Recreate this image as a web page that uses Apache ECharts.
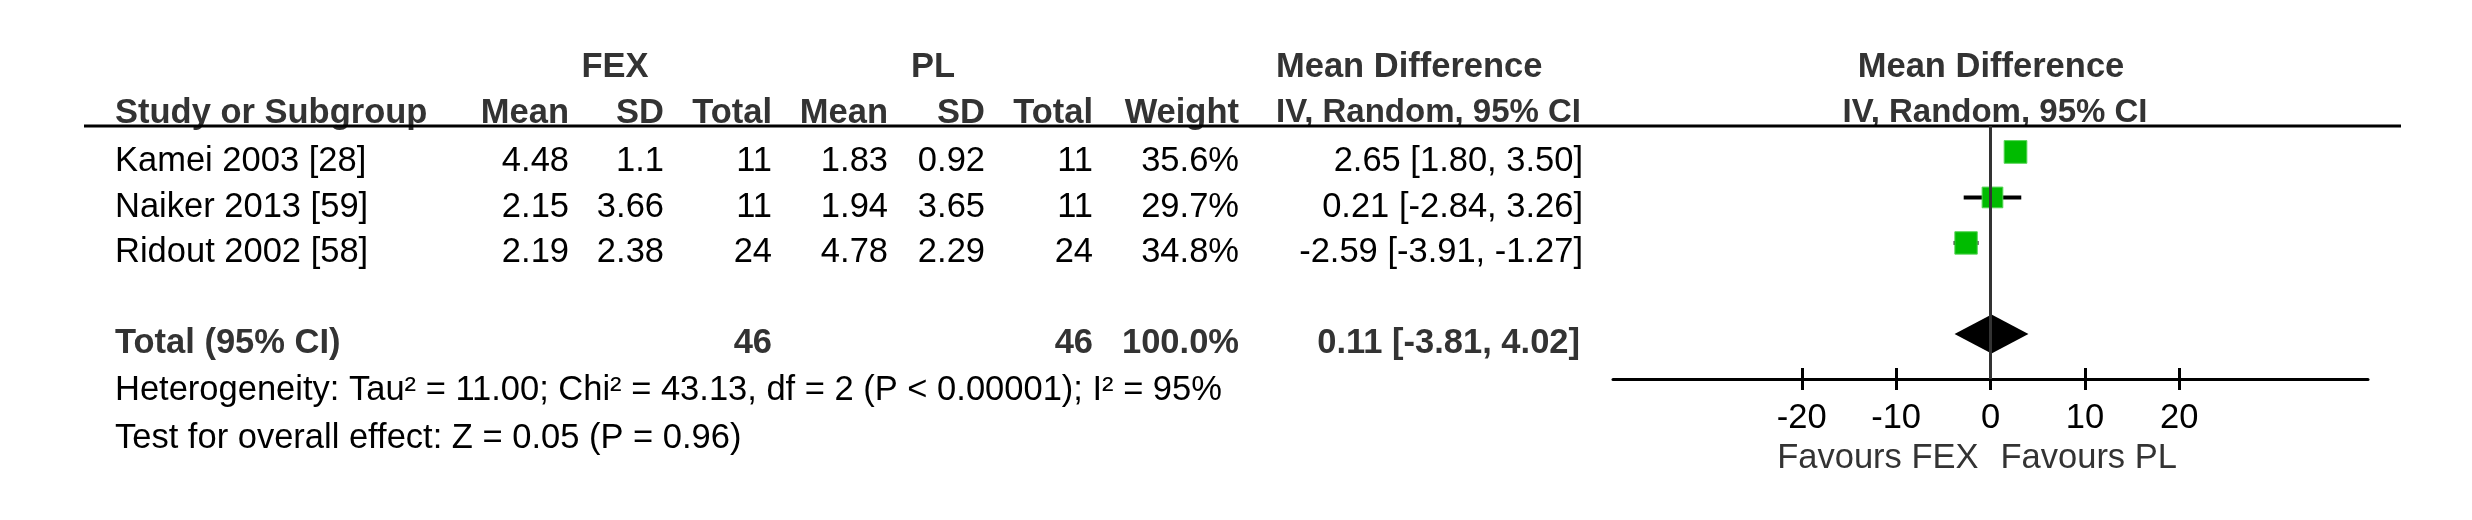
<!DOCTYPE html>
<html>
<head>
<meta charset="utf-8">
<style>
  html, body { margin: 0; padding: 0; background: #fff; }
  #main { width: 2472px; height: 520px; }
</style>
<script src="https://cdn.jsdelivr.net/npm/echarts@6/dist/echarts.min.js"></script>
</head>
<body>
<div id="main"></div>
<script>
// study rows
var studies = ['Kamei 2003 [28]', 'Naiker 2013 [59]', 'Ridout 2002 [58]'];
var fexMean = ['4.48', '2.15', '2.19'];
var fexSD = ['1.1', '3.66', '2.38'];
var fexTotal = [11, 11, 24];
var plMean = ['1.83', '1.94', '4.78'];
var plSD = ['0.92', '3.65', '2.29'];
var plTotal = [11, 11, 24];
var weights = [35.6, 29.7, 34.8];
var md = [2.65, 0.21, -2.59];
var ciLow = [1.80, -2.84, -3.91];
var ciHigh = [3.50, 3.26, -1.27];

// pooled result
var pooled = [0.11, -3.81, 4.02];
var totalFex = 46, totalPl = 46, totalWeight = '100.0%';
var hetText = 'Heterogeneity: Tau\u00b2 = 11.00; Chi\u00b2 = 43.13, df = 2 (P < 0.00001); I\u00b2 = 95%';
var testText = 'Test for overall effect: Z = 0.05 (P = 0.96)';

// axis
var xTicks = [-20, -10, 0, 10, 20];
var favours = ['Favours FEX', 'Favours PL'];

var FONT = '"Liberation Sans", Arial, sans-serif';
var FS = 34.5;
var rowIdx = [0, 1, 2];
var totalRow = 4;

var fmt = function (v) { return v.toFixed(2); };

var chart = echarts.init(document.getElementById('main'));

var option = {
    backgroundColor: '#fff',
    animation: false,
    grid: { left: 1613, top: 126, width: 755, height: 253 },
    xAxis: [{
        type: 'value', min: -40, max: 40, interval: 10,
        splitLine: { show: false },
        axisLine: { onZero: false, lineStyle: { color: '#000', width: 3 } },
        axisTick: { customValues: xTicks, length: 11, lineStyle: { color: '#000', width: 3 } },
        axisLabel: { customValues: xTicks, margin: 22, color: '#000', fontSize: FS, fontFamily: FONT }
    }, {
        type: 'value', min: -40, max: 40, interval: 10, position: 'bottom',
        splitLine: { show: false },
        axisLine: { show: false, onZero: false },
        axisTick: { customValues: xTicks, inside: true, length: 11, lineStyle: { color: '#000', width: 3 } },
        axisLabel: { show: false }
    }],
    yAxis: { type: 'value', inverse: true, min: -0.57, max: 4.99, show: false },
    series: [{
        // zero line
        type: 'line', data: [], z: 1,
        markLine: {
            silent: true, symbol: 'none', label: { show: false },
            lineStyle: { color: '#333', width: 3, type: 'solid' },
            data: [{ xAxis: 0 }]
        }
    }, {
        // confidence intervals
        type: 'custom', z: 2,
        data: rowIdx.map(function (i) { return [ciLow[i], ciHigh[i], i]; }),
        renderItem: function (params, api) {
            var a = api.coord([api.value(0), api.value(2)]);
            var b = api.coord([api.value(1), api.value(2)]);
            return { type: 'line', shape: { x1: a[0], y1: a[1], x2: b[0], y2: b[1] },
                     style: { stroke: '#000', lineWidth: 4 } };
        }
    }, {
        type: 'scatter', z: 3, symbol: 'rect',
        data: rowIdx.map(function (i) { return [md[i], i, weights[i]]; }),
        symbolSize: function (v) { return Math.sqrt(v[2]) * 3.8; },
        itemStyle: { color: '#00bb00', borderColor: '#55d455', borderWidth: 1, opacity: 1 }
    }, {
        type: 'custom', z: 4,
        data: [[pooled[0], pooled[1], pooled[2], totalRow]],
        renderItem: function (params, api) {
            var c = api.coord([api.value(0), api.value(3)]);
            var l = api.coord([api.value(1), api.value(3)]);
            var r = api.coord([api.value(2), api.value(3)]);
            var h = 19.5;
            return { type: 'polygon',
                     shape: { points: [[l[0], c[1]], [c[0], c[1] - h], [r[0], c[1]], [c[0], c[1] + h]] },
                     style: { fill: '#000' } };
        }
    }]
};
chart.setOption(option);

// table text
function txt(x, y, s, align, bold, color, size) {
    return { type: 'text', x: x, y: y, silent: true,
             style: { text: s, textAlign: align, textVerticalAlign: 'middle',
                      fontSize: size || FS, fontFamily: FONT, fontWeight: bold ? 'bold' : 'normal',
                      fill: color || '#000' } };
}
var rowY = function (i) { return chart.convertToPixel({ gridIndex: 0 }, [0, i])[1] + 10; };

var colRight = [569, 664, 772, 888, 985, 1093, 1239];
var els = [];
var H1 = 67, H2 = 113, HC = '#333';
els.push(txt(615, H1, 'FEX', 'center', true, HC));
els.push(txt(933, H1, 'PL', 'center', true, HC));
els.push(txt(1276, H1, 'Mean Difference', 'left', true, HC));
els.push(txt(1991, H1, 'Mean Difference', 'center', true, HC));
els.push(txt(115, H2, 'Study or Subgroup', 'left', true, HC));
['Mean', 'SD', 'Total', 'Mean', 'SD', 'Total', 'Weight'].forEach(function (h, k) {
    els.push(txt(colRight[k], H2, h, 'right', true, HC));
});
els.push(txt(1276, H2, 'IV, Random, 95% CI', 'left', true, HC, 33));
els.push(txt(1995, H2, 'IV, Random, 95% CI', 'center', true, HC, 33));

rowIdx.forEach(function (i) {
    var y = rowY(i);
    els.push(txt(115, y, studies[i], 'left'));
    [fexMean[i], fexSD[i], fexTotal[i], plMean[i], plSD[i], plTotal[i], weights[i].toFixed(1) + '%']
        .forEach(function (v, k) { els.push(txt(colRight[k], y, String(v), 'right')); });
    els.push(txt(1583, y, fmt(md[i]) + ' [' + fmt(ciLow[i]) + ', ' + fmt(ciHigh[i]) + ']', 'right'));
});

var ty = rowY(totalRow);
els.push(txt(115, ty, 'Total (95% CI)', 'left', true, HC));
els.push(txt(colRight[2], ty, String(totalFex), 'right', true, HC));
els.push(txt(colRight[5], ty, String(totalPl), 'right', true, HC));
els.push(txt(colRight[6], ty, totalWeight, 'right', true, HC));
els.push(txt(1580, ty, fmt(pooled[0]) + ' [' + fmt(pooled[1]) + ', ' + fmt(pooled[2]) + ']', 'right', true, HC));
els.push(txt(115, 390, hetText, 'left'));
els.push(txt(115, 438, testText, 'left'));

// header rule
els.push({ type: 'line', silent: true, shape: { x1: 84, y1: 126, x2: 2401, y2: 126 },
           style: { stroke: '#000', lineWidth: 3 } });

// favours labels
var zx = chart.convertToPixel({ gridIndex: 0 }, [0, 0])[0];
els.push(txt(zx - 12, 458, favours[0], 'right', false, '#333'));
els.push(txt(zx + 10, 458, favours[1], 'left', false, '#333'));

chart.setOption({ graphic: els });
</script>
</body>
</html>
